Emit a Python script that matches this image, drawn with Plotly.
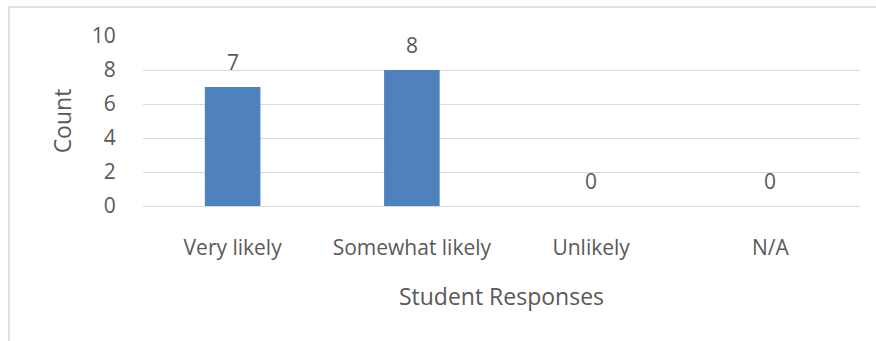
import plotly.graph_objects as go

categories = ["Very likely", "Somewhat likely", "Unlikely", "N/A"]
counts = [7, 8, 0, 0]
y_ticks = [0, 2, 4, 6, 8, 10]

TXT = "#595959"
FONT = "Open Sans"

fig = go.Figure()
fig.add_trace(go.Bar(
    x=categories, y=counts,
    marker=dict(color="#4F81BD", line=dict(width=0)),
    width=0.31,
))

for c, v in zip(categories, counts):
    fig.add_annotation(x=c, y=v, text=str(v), showarrow=False,
                       yanchor="bottom", yshift=9,
                       font=dict(family=FONT, size=21, color=TXT))

# chart border (Excel-style chart area)
fig.add_shape(type="rect", xref="paper", yref="paper",
              x0=-0.1869, x1=1.03, y0=-0.85, y1=1.1706,
              line=dict(color="#d9d9d9", width=1.5), layer="below")

fig.update_layout(
    width=876, height=341,
    margin=dict(l=143, r=16, t=36, b=135),
    paper_bgcolor="white", plot_bgcolor="white",
    showlegend=False,
    font=dict(family=FONT, size=21, color=TXT),
    xaxis=dict(
        showgrid=False, showline=False, zeroline=False,
        ticks="outside", ticklen=23, tickcolor="rgba(0,0,0,0)",
        tickfont=dict(family=FONT, size=21, color=TXT),
        title=dict(text="Student Responses", standoff=28,
                   font=dict(family=FONT, size=23, color=TXT)),
    ),
    yaxis=dict(
        range=[0, 10], tickvals=y_ticks,
        showgrid=True, gridcolor="#d9d9d9", gridwidth=1.3,
        zeroline=True, zerolinecolor="#d9d9d9", zerolinewidth=1.3,
        showline=False,
        ticks="outside", ticklen=22, tickcolor="rgba(0,0,0,0)",
        tickfont=dict(family=FONT, size=21, color=TXT),
        title=dict(text="Count", standoff=13,
                   font=dict(family=FONT, size=23, color=TXT)),
    ),
)

fig.write_html("out.html")
